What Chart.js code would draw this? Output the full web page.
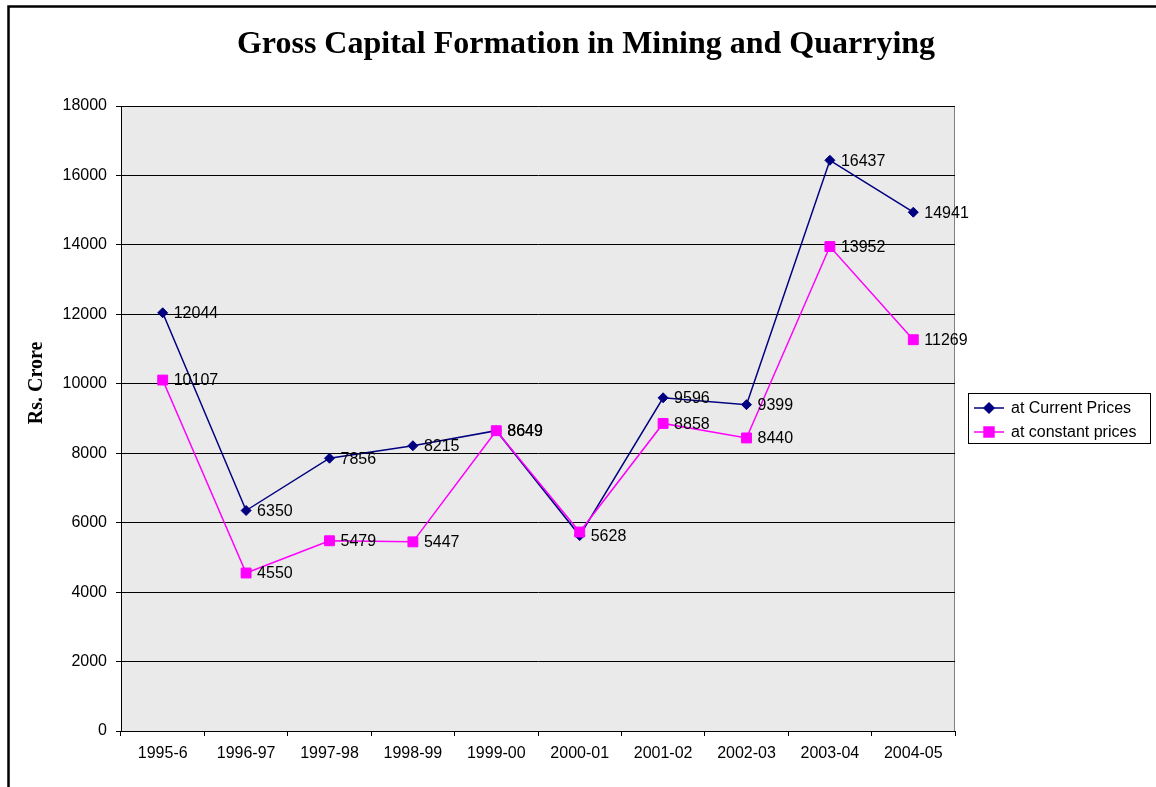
<!DOCTYPE html>
<html>
<head>
<meta charset="utf-8">
<script src="https://cdn.jsdelivr.net/npm/chart.js@4"></script>
<style>
  body { margin: 0; background: #fff; }
  #wrap { width: 1156px; height: 787px; }
</style>
</head>
<body>
<div id="wrap"><canvas id="myChart" width="1156" height="787"></canvas></div>
<script>
// data
const years = ['1995-6', '1996-97', '1997-98', '1998-99', '1999-00', '2000-01', '2001-02', '2002-03', '2003-04', '2004-05'];
const currentPrices = [12044, 6350, 7856, 8215, 8649, 5628, 9596, 9399, 16437, 14941];
const constantPrices = [10107, 4550, 5479, 5447, 8649, 5730, 8858, 8440, 13952, 11269];
const yTicks = [0, 2000, 4000, 6000, 8000, 10000, 12000, 14000, 16000, 18000];
// the constant label at 2000-01 sits under the other one in the original
const hiddenConstLabels = [5];

const sans = 'Arial, "Liberation Sans", sans-serif';
const serif = '"Times New Roman", "Liberation Serif", serif';
const txtSize = 16;

//plot area fill, outer frame, titles
const backdrop = {
  id: 'backdrop',
  beforeDraw(chart) {
    const c = chart.ctx, a = chart.chartArea;
    c.save();
    c.fillStyle = '#fff';
    c.fillRect(0, 0, chart.width, chart.height);
    c.fillStyle = '#EAEAEA';
    c.fillRect(a.left, a.top, a.right - a.left, a.bottom - a.top);
    c.strokeStyle = '#808080';
    c.lineWidth = 1;
    c.strokeRect(a.left + 0.5, a.top + 0.5, a.right - a.left - 1, a.bottom - a.top);
    // outer frame, only left and top show
    c.strokeStyle = '#000';
    c.lineWidth = 2.5;
    c.beginPath();
    c.moveTo(8.5, chart.height + 5);
    c.lineTo(8.5, 6.5);
    c.lineTo(chart.width + 5, 6.5);
    c.stroke();
    c.restore();
  },
  afterDraw(chart) {
    const c = chart.ctx;
    c.save();
    c.fillStyle = '#000';
    c.textAlign = 'center';
    c.textBaseline = 'middle';
    c.font = 'bold 32px ' + serif;
    c.fillText('Gross Capital Formation in Mining and Quarrying', 586, 44.5);
    c.translate(37, 383);
    c.rotate(-Math.PI / 2);
    c.font = 'bold 20px ' + serif;
    c.fillText('Rs. Crore', 0, 0);
    c.restore();
  }
};

//value labels right of each point
const pointLabels = {
  id: 'pointLabels',
  afterDatasetsDraw(chart) {
    const c = chart.ctx;
    c.save();
    c.font = txtSize + 'px ' + sans;
    c.fillStyle = '#000';
    c.textAlign = 'left';
    c.textBaseline = 'middle';
    chart.data.datasets.forEach(function(ds, i) {
      chart.getDatasetMeta(i).data.forEach(function(pt, j) {
        if (ds.label == 'at constant prices' && hiddenConstLabels.includes(j)) return;
        c.fillText(String(ds.data[j]), pt.x + 11, pt.y + 1);
      });
    });
    c.restore();
  }
};

//boxed legend on the right
const boxLegend = {
  id: 'boxLegend',
  afterDraw(chart) {
    const c = chart.ctx;
    const x = 968, y = 393, w = 182, h = 50;
    c.save();
    c.fillStyle = '#fff';
    c.fillRect(x, y, w, h);
    c.strokeStyle = '#000';
    c.lineWidth = 1;
    c.strokeRect(x + 0.5, y + 0.5, w, h);
    c.font = txtSize + 'px ' + sans;
    c.textBaseline = 'middle';
    c.textAlign = 'left';
    chart.data.datasets.forEach(function(ds, i) {
      const ry = y + 15 + i * 24;
      c.strokeStyle = ds.borderColor;
      c.lineWidth = 1.5;
      c.beginPath();
      c.moveTo(x + 6, ry);
      c.lineTo(x + 36, ry);
      c.stroke();
      Chart.helpers.drawPoint(c, {pointStyle: ds.pointStyle, radius: ds.pointRadius, borderWidth: 1}, x + 21, ry);
      c.fillStyle = ds.borderColor;
      c.fill();
      c.fillStyle = '#000';
      c.fillText(ds.label, x + 43, ry + 1);
    });
    c.restore();
  }
};

const ctx = document.getElementById('myChart').getContext('2d');
const data = {
  labels: years,
  datasets: [{
    label: 'at Current Prices',
    data: currentPrices,
    borderColor: '#000080',
    backgroundColor: '#000080',
    borderWidth: 1.5,
    pointStyle: 'rectRot',
    pointRadius: 5,
    pointBorderWidth: 1,
    tension: 0,
    order: 2
  }, {
    label: 'at constant prices',
    data: constantPrices,
    borderColor: '#FF00FF',
    backgroundColor: '#FF00FF',
    borderWidth: 1.5,
    pointStyle: 'rect',
    pointRadius: 7,
    pointBorderWidth: 1,
    tension: 0,
    order: 1
  }]
};

const config = {
  type: 'line',
  data: data,
  plugins: [backdrop, pointLabels, boxLegend],
  options: {
    responsive: false,
    animation: false,
    layout: { padding: { left: 0, right: 201, top: 106, bottom: 0 } },
    plugins: {
      legend: { display: false },
      tooltip: { enabled: false },
      title: { display: false }
    },
    scales: {
      x: {
        offset: true,
        afterFit(scale) { scale.height = 56; },
        grid: { offset: true, drawOnChartArea: false, drawTicks: true, tickLength: 5, color: '#000' },
        border: { color: '#000', width: 1 },
        ticks: { color: '#000', font: { family: sans, size: txtSize }, padding: 8, maxRotation: 0 }
      },
      y: {
        min: 0,
        max: 18000,
        afterFit(scale) { scale.width = 121; },
        afterBuildTicks(scale) { scale.ticks = yTicks.map(v => ({ value: v })); },
        grid: { color: '#000', lineWidth: 1, tickLength: 5 },
        border: { color: '#000', width: 1 },
        ticks: {
          color: '#000',
          font: { family: sans, size: txtSize },
          padding: 9,
          callback: function(v) { return String(v); }
        }
      }
    }
  }
};

const myChart = new Chart(ctx, config);
</script>
</body>
</html>
